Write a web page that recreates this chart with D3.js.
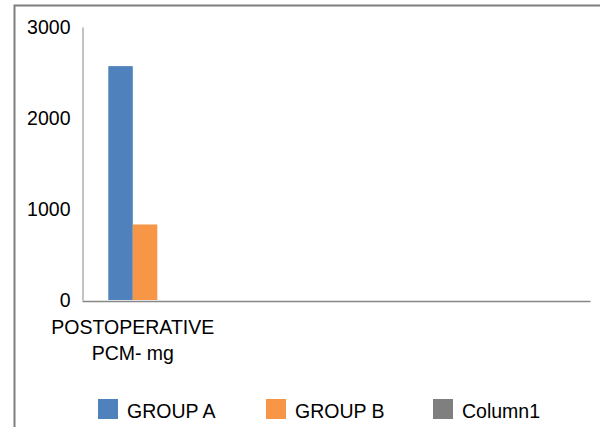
<!DOCTYPE html>
<html>
<head>
<meta charset="utf-8">
<script src="https://cdn.jsdelivr.net/npm/d3@7"></script>
<style>
  body { margin: 0; background: #fff; }
  text { font-family: "Liberation Sans", Arial, sans-serif; fill: #000; }
</style>
</head>
<body>
<div id="chart"></div>
<script>
// data
const categories = [["POSTOPERATIVE", "PCM- mg"], [], [], [], []];
const seriesNames = ["GROUP A", "GROUP B", "Column1"];
const groupA = [2570, null, null, null, null];
const groupB = [830, null, null, null, null];
const column1 = [null, null, null, null, null];
const yTicks = [0, 1000, 2000, 3000];

const colors = ["#4F81BD", "#F79646", "#7F7F7F"];
const seriesValues = [groupA, groupB, column1];

const width = 600;
const height = 427;

const svg = d3.select("#chart")
    .append("svg")
    .attr("width", width)
    .attr("height", height);

// outer chart border (runs off the right and bottom edges)
svg.append("rect")
    .attr("x", 14.5)
    .attr("y", 5.5)
    .attr("width", 620)
    .attr("height", 440)
    .attr("fill", "none")
    .attr("stroke", "#7f7f7f")
    .attr("stroke-width", 2);

const x = d3.scaleBand()
    .domain(d3.range(categories.length))
    .range([82, 590]);

// only series that hold values get a slot in the group
const drawn = seriesNames.filter((s, i) => seriesValues[i].some(v => v != null));
const xInner = d3.scaleBand()
    .domain(drawn)
    .range([0, 49]);
const groupOffset = (x.bandwidth() - xInner.range()[1]) / 2;

const y = d3.scaleLinear()
    .domain([0, 3000])
    .range([300, 27]);

// y axis
const yAxis = svg.append("g")
    .attr("transform", "translate(82.5,0)")
    .call(d3.axisLeft(y).tickValues(yTicks).tickFormat(d3.format("d")).tickSize(0).tickPadding(12));
yAxis.select(".domain").attr("stroke", "#868686");
yAxis.selectAll("text")
    .style("font-size", "19.5px")
    .attr("dy", "0.35em");

// bars
seriesNames.forEach(function (name, si) {
    if (!drawn.includes(name)) return;
    svg.append("g")
        .selectAll("rect")
        .data(seriesValues[si].map((v, i) => ({ i: i, v: v })).filter(d => d.v != null))
        .enter()
        .append("rect")
        .attr("x", d => x(d.i) + groupOffset + xInner(name))
        .attr("y", d => y(d.v))
        .attr("width", xInner.bandwidth())
        .attr("height", d => y(0) - y(d.v))
        .attr("fill", colors[si]);
});

// x axis
const xAxis = svg.append("g")
    .attr("transform", "translate(0,301)")
    .call(d3.axisBottom(x).tickSize(0).tickFormat(""));
xAxis.select(".domain")
    .attr("stroke", "#868686")
    .attr("stroke-width", 1.5);

// category labels
svg.append("g")
    .selectAll("text")
    .data(categories.map((c, i) => ({ i: i, lines: c })))
    .enter()
    .append("text")
    .attr("text-anchor", "middle")
    .style("font-size", "19.5px")
    .each(function (d) {
        d3.select(this).selectAll("tspan")
            .data(d.lines)
            .enter()
            .append("tspan")
            .attr("x", x(d.i) + x.bandwidth() / 2)
            .attr("y", (l, k) => 334 + k * 26)
            .text(l => l);
    });

// legend
const legendX = [98, 266, 433];
const legend = svg.append("g")
    .selectAll("g")
    .data(seriesNames)
    .enter()
    .append("g")
    .attr("transform", (d, i) => "translate(" + legendX[i] + ",399)");
legend.append("rect")
    .attr("width", 20)
    .attr("height", 20)
    .attr("fill", (d, i) => colors[i]);
legend.append("text")
    .attr("x", 29)
    .attr("y", 18.5)
    .style("font-size", "19.5px")
    .text(d => d);
</script>
</body>
</html>
